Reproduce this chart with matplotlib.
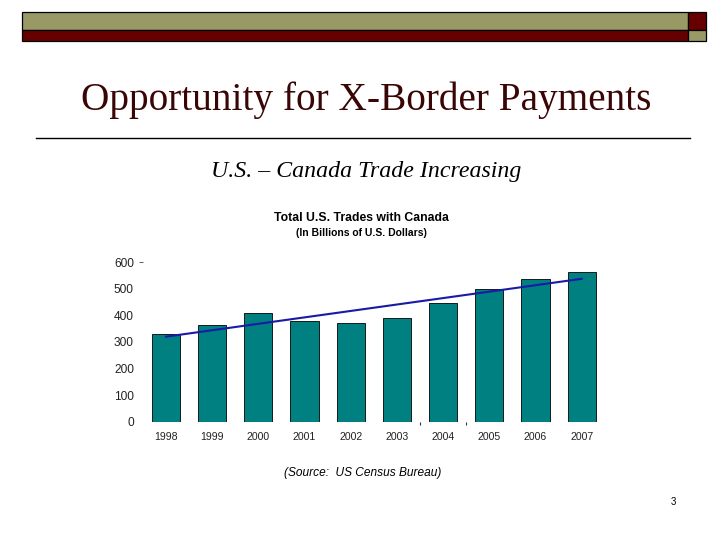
import matplotlib
matplotlib.use("Agg")
import matplotlib.pyplot as plt
from matplotlib.patches import Rectangle
import numpy as np

# data
years = ["1998", "1999", "2000", "2001", "2002", "2003", "2004", "2005", "2006", "2007"]
trade = [330, 364, 409, 379, 371, 390, 447, 498, 537, 565]
y_ticks = [0, 100, 200, 300, 400, 500, 600]

W, H = 720, 540
OLIVE = "#999966"
MAROON = "#660000"
TEAL = "#008080"


def box(fig, x0, y0, x1, y1, color):
    # rectangle given in pixel coords (top-left origin)
    r = Rectangle((x0 / W, 1 - y1 / H), (x1 - x0) / W, (y1 - y0) / H,
                  transform=fig.transFigure, facecolor=color,
                  edgecolor="black", linewidth=0.9)
    fig.add_artist(r)


def text_px(fig, x, y, s, **kw):
    fig.text(x / W, 1 - y / H, s, **kw)


fig = plt.figure(figsize=(7.2, 5.4), dpi=100)
fig.patch.set_facecolor("white")

# slide header bands
box(fig, 22, 12, 688, 30, OLIVE)
box(fig, 22, 30, 688, 41, MAROON)
box(fig, 688, 12, 706, 30, MAROON)
box(fig, 688, 30, 706, 41, OLIVE)

# slide title and rule
text_px(fig, 366, 110, "Opportunity for X-Border Payments", ha="center",
        va="baseline", fontsize=28.3, family="Liberation Serif", color="#3a0505")
fig.add_artist(plt.Line2D([36 / W, 690 / W], [1 - 138 / H, 1 - 138 / H],
                          transform=fig.transFigure, color="black", lw=1.0))
text_px(fig, 366, 177, "U.S. \u2013 Canada Trade Increasing", ha="center",
        va="baseline", fontsize=17.2, family="Liberation Serif", style="italic",
        color="black")

# chart titles
text_px(fig, 361, 218, "Total U.S. Trades with Canada", ha="center", va="center",
        fontsize=8.8, family="Liberation Sans", weight="bold")
text_px(fig, 361, 232.5, "(In Billions of U.S. Dollars)", ha="center", va="center",
        fontsize=7.5, family="Liberation Sans", weight="bold")

# bar chart
ax = fig.add_axes([142.9 / W, 1 - 421.7 / H, 461.9 / W, 159.4 / H])
x = np.arange(len(years))
ax.bar(x, trade, width=0.61, color=TEAL, edgecolor="black", linewidth=0.6)

# linear trend line
slope, icpt = np.polyfit(x, trade, 1)
ax.plot([x[0], x[-1]], [icpt + slope * x[0], icpt + slope * x[-1]],
        color="#1a1aa8", lw=1.5)

ax.set_xlim(-0.5, len(years) - 0.5)
ax.set_ylim(0, 600)
for s in ax.spines.values():
    s.set_visible(False)

ax.set_xticks(x, years)
ax.set_yticks(y_ticks, [str(v) for v in y_ticks])
ax.tick_params(axis="x", length=0, pad=7.5, labelsize=7.6, labelcolor="#222222")
ax.tick_params(axis="y", length=3, pad=3.5, labelsize=8.6, labelcolor="#222222",
               color="#444444", width=0.6)
for t in ax.yaxis.get_major_ticks()[:-1]:
    t.tick1line.set_visible(False)
for lab in ax.get_xticklabels() + ax.get_yticklabels():
    lab.set_family("Liberation Sans")

# the two stray tick marks under the baseline
ax.set_xticks([5.5, 6.5], minor=True)
ax.tick_params(axis="x", which="minor", length=2.5, width=0.8, color="#333333")

# footer
text_px(fig, 363, 473, "(Source:  US Census Bureau)", ha="center", va="center",
        fontsize=8.6, family="Liberation Sans", style="italic")
text_px(fig, 673, 502, "3", ha="center", va="center", fontsize=7,
        family="Liberation Sans")

fig.savefig("out.png", dpi=100, facecolor="white")
